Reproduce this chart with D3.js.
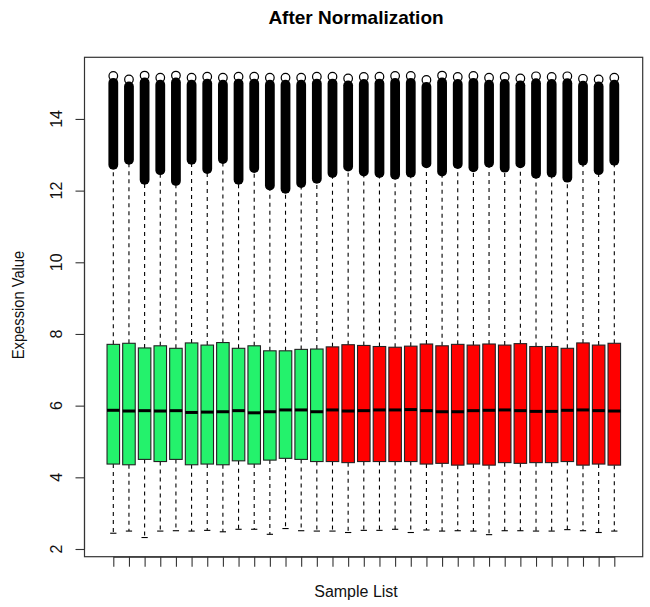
<!DOCTYPE html>
<html>
<head>
<meta charset="utf-8">
<script src="https://cdn.jsdelivr.net/npm/d3@7"></script>
<style>
  html, body { margin: 0; padding: 0; background: #ffffff; }
  svg { display: block; font-family: "Liberation Sans", Arial, sans-serif; }
</style>
</head>
<body>
<svg id="chart" width="650" height="607"></svg>
<script>
// ---------------- data ----------------
const samples = ["S01","S02","S03","S04","S05","S06","S07","S08","S09","S10","S11",
  "S12","S13","S14","S15","S16","S17","S18","S19","S20","S21","S22","S23","S24",
  "S25","S26","S27","S28","S29","S30","S31","S32","S33"];
const groups = ["G","G","G","G","G","G","G","G","G","G","G","G","G","G",
  "R","R","R","R","R","R","R","R","R","R","R","R","R","R","R","R","R","R","R"];
const q1 = [4.37,4.35,4.50,4.44,4.50,4.35,4.37,4.35,4.46,4.37,4.48,4.53,4.50,4.44,
  4.44,4.41,4.44,4.44,4.44,4.44,4.37,4.39,4.34,4.37,4.34,4.41,4.39,4.41,4.41,4.44,4.34,4.37,4.34];
const medians = [5.87,5.85,5.86,5.85,5.86,5.81,5.82,5.83,5.86,5.80,5.83,5.88,5.88,5.83,
  5.88,5.85,5.86,5.88,5.88,5.89,5.86,5.83,5.83,5.86,5.87,5.88,5.86,5.84,5.84,5.87,5.88,5.86,5.85];
const q3 = [7.71,7.74,7.61,7.67,7.60,7.75,7.69,7.76,7.60,7.67,7.53,7.53,7.57,7.58,
  7.64,7.70,7.68,7.65,7.63,7.66,7.72,7.67,7.71,7.69,7.72,7.69,7.73,7.65,7.65,7.60,7.75,7.69,7.74];
const whiskerLow = [2.44,2.50,2.32,2.50,2.51,2.50,2.52,2.48,2.55,2.55,2.41,2.57,2.51,2.50,
  2.50,2.46,2.52,2.52,2.55,2.46,2.53,2.50,2.51,2.50,2.40,2.51,2.51,2.50,2.50,2.54,2.51,2.46,2.50];
const whiskerHigh = [12.63,12.77,12.21,12.49,12.19,12.77,12.52,12.79,12.21,12.54,12.06,11.96,12.12,12.24,
  12.40,12.59,12.45,12.40,12.35,12.42,12.68,12.45,12.65,12.57,12.70,12.56,12.68,12.38,12.42,12.28,12.75,12.49,12.75];
const outlierLow = [12.72,12.86,12.30,12.57,12.27,12.86,12.60,12.88,12.30,12.63,12.14,12.05,12.21,12.33,
  12.49,12.67,12.53,12.49,12.44,12.50,12.76,12.53,12.74,12.65,12.78,12.64,12.76,12.47,12.50,12.36,12.83,12.57,12.83];
const outlierMax = [15.20,15.10,15.21,15.15,15.21,15.15,15.18,15.15,15.18,15.18,15.15,15.15,15.15,15.18,
  15.18,15.13,15.17,15.18,15.20,15.20,15.09,15.21,15.17,15.20,15.15,15.17,15.13,15.19,15.17,15.19,15.12,15.10,15.15];
const yTicks = [2,4,6,8,10,12,14];
const groupColors = { G: "#24F26C", R: "#FF0000" };

// ---------------- layout ----------------
const svg = d3.select("#chart");
const plot = { left: 84.5, right: 642.7, top: 57.3, bottom: 556.7 };

const x = d3.scalePoint().domain(samples).range([113.3, 614.3]);
const y = d3.scaleLinear().domain([1.785, 15.72]).range([plot.bottom, plot.top]);
const boxW = x.step() * 0.8;

const rows = samples.map((s, i) => ({
  s, g: groups[i], q1: q1[i], med: medians[i], q3: q3[i],
  lo: whiskerLow[i], hi: whiskerHigh[i], oLo: outlierLow[i], oMax: outlierMax[i]
}));

const g = svg.append("g");

// whiskers (dashed)
g.selectAll(".wUp").data(rows).join("line")
  .attr("x1", d => x(d.s)).attr("x2", d => x(d.s))
  .attr("y1", d => y(d.q3)).attr("y2", d => y(d.hi))
  .attr("stroke", "#000").attr("stroke-width", 1.1).attr("stroke-dasharray", "4,4");
g.selectAll(".wDn").data(rows).join("line")
  .attr("x1", d => x(d.s)).attr("x2", d => x(d.s))
  .attr("y1", d => y(d.q1)).attr("y2", d => y(d.lo))
  .attr("stroke", "#000").attr("stroke-width", 1.1).attr("stroke-dasharray", "4,4");
// staples
g.selectAll(".stLo").data(rows).join("line")
  .attr("x1", d => x(d.s) - boxW / 4).attr("x2", d => x(d.s) + boxW / 4)
  .attr("y1", d => y(d.lo)).attr("y2", d => y(d.lo))
  .attr("stroke", "#000").attr("stroke-width", 1.1);
g.selectAll(".stHi").data(rows).join("line")
  .attr("x1", d => x(d.s) - boxW / 4).attr("x2", d => x(d.s) + boxW / 4)
  .attr("y1", d => y(d.hi)).attr("y2", d => y(d.hi))
  .attr("stroke", "#000").attr("stroke-width", 1.1);

// boxes
g.selectAll(".box").data(rows).join("rect")
  .attr("x", d => x(d.s) - boxW / 2).attr("width", boxW)
  .attr("y", d => y(d.q3)).attr("height", d => y(d.q1) - y(d.q3))
  .attr("fill", d => groupColors[d.g])
  .attr("stroke", "#222").attr("stroke-width", 1.1);
// medians
g.selectAll(".med").data(rows).join("line")
  .attr("x1", d => x(d.s) - boxW / 2).attr("x2", d => x(d.s) + boxW / 2)
  .attr("y1", d => y(d.med)).attr("y2", d => y(d.med))
  .attr("stroke", "#000").attr("stroke-width", 3);

// dense upper outliers: top outlier circle, then solid band of overlapping circles
const R = 4.3;
g.selectAll(".otop").data(rows).join("circle")
  .attr("cx", d => x(d.s)).attr("cy", d => y(d.oMax)).attr("r", R)
  .attr("fill", "#fff").attr("stroke", "#000").attr("stroke-width", 1.2);
g.selectAll(".oband").data(rows).join("rect")
  .attr("x", d => x(d.s) - (R + 0.6)).attr("width", 2 * (R + 0.6))
  .attr("y", d => y(d.oMax) + 2)
  .attr("height", d => y(d.oLo) + R + 0.6 - (y(d.oMax) + 2))
  .attr("rx", R + 0.6).attr("fill", "#000");

// frame
svg.append("rect")
  .attr("x", plot.left).attr("y", plot.top)
  .attr("width", plot.right - plot.left).attr("height", plot.bottom - plot.top)
  .attr("fill", "none").attr("stroke", "#333").attr("stroke-width", 1.2);

// x axis (ticks, no labels)
const xAxis = svg.append("g").attr("transform", `translate(0,${plot.bottom})`)
  .call(d3.axisBottom(x).tickSize(10).tickSizeOuter(0).tickFormat(""));
xAxis.selectAll("path,line").attr("stroke", "#333").attr("stroke-width", 1.1);

// y axis
const yAxis = svg.append("g").attr("transform", `translate(${plot.left},0)`)
  .call(d3.axisLeft(y).tickValues(yTicks).tickSize(9).tickSizeOuter(0).tickFormat(""));
yAxis.select(".domain").remove();
yAxis.selectAll("line").attr("stroke", "#333").attr("stroke-width", 1.1);
svg.append("line")
  .attr("x1", plot.left).attr("x2", plot.left)
  .attr("y1", y(yTicks[0])).attr("y2", y(yTicks[yTicks.length - 1]))
  .attr("stroke", "#333").attr("stroke-width", 1.1);

svg.append("g").selectAll("text").data(yTicks).join("text")
  .attr("transform", d => `translate(62,${y(d)}) rotate(-90)`)
  .attr("text-anchor", "middle")
  .attr("font-size", 16).attr("fill", "#111")
  .text(d => d);

// titles
svg.append("text").attr("x", 356).attr("y", 24)
  .attr("text-anchor", "middle").attr("font-size", 19).attr("font-weight", "bold")
  .attr("fill", "#000").text("After Normalization");
svg.append("text").attr("x", 356).attr("y", 597)
  .attr("text-anchor", "middle").attr("font-size", 16).attr("fill", "#111")
  .text("Sample List");
svg.append("text")
  .attr("transform", "translate(24,305) rotate(-90) scale(0.92,1)")
  .attr("text-anchor", "middle").attr("font-size", 16).attr("fill", "#111")
  .text("Expession Value");
</script>
</body>
</html>
